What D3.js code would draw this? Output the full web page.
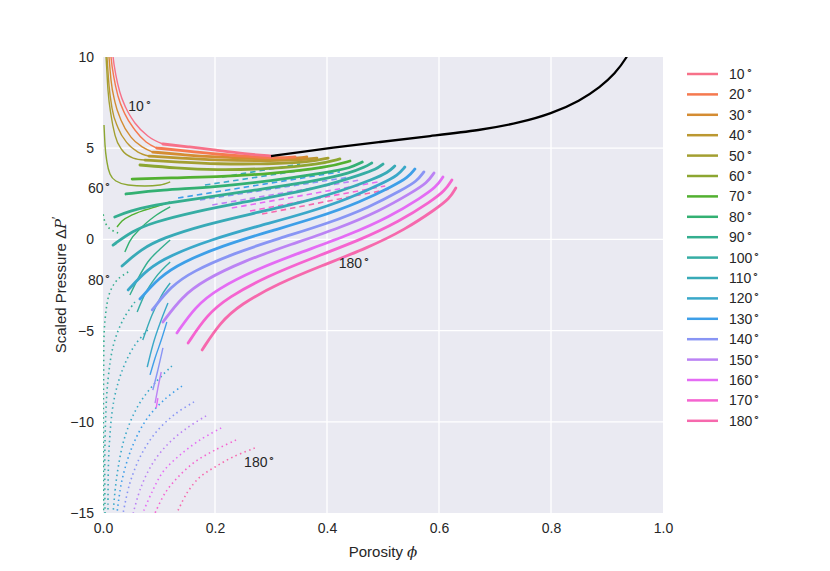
<!DOCTYPE html>
<html>
<head>
<meta charset="utf-8">
<script src="https://cdn.jsdelivr.net/npm/d3@7"></script>
<style>
  body { margin: 0; background: #fff; }
  text { font-family: "Liberation Sans", Arial, sans-serif; fill: #262626; }
</style>
</head>
<body>
<div id="chart"></div>
<script>
// chart size and plot box
const width = 830;
const height = 571;
const margin = { left: 103, right: 167, top: 57, bottom: 58 };

// contact angles (degrees) and their palette colours
const angles = [10, 20, 30, 40, 50, 60, 70, 80, 90, 100, 110, 120, 130, 140, 150, 160, 170, 180];
const angleColors = ["#f77189", "#f5794f", "#d48c32", "#bb9831", "#a39f31", "#8ca631",
                     "#52b031", "#33b072", "#34ae8f", "#36ada4", "#38aab7", "#3aa8c9",
                     "#3e9fe8", "#8995f4", "#bb83f4", "#e46cf4", "#f564d0", "#f669ad"];

const xTicks = [0.0, 0.2, 0.4, 0.6, 0.8, 1.0];
const yTicks = [-15, -10, -5, 0, 5, 10];

// stable branch (thick), [porosity, scaled pressure]
const stableBranch = [
  [[0.107,5.23],[0.155,5.07],[0.200,4.90],[0.254,4.68],[0.302,4.57]],
  [[0.096,5.01],[0.146,4.85],[0.200,4.68],[0.271,4.52],[0.316,4.46],[0.343,4.52]],
  [[0.089,4.79],[0.146,4.63],[0.200,4.52],[0.280,4.41],[0.334,4.41],[0.364,4.52]],
  [[0.082,4.57],[0.138,4.46],[0.200,4.35],[0.280,4.30],[0.352,4.35],[0.382,4.46]],
  [[0.075,4.35],[0.138,4.24],[0.200,4.13],[0.298,4.13],[0.370,4.24],[0.402,4.46]],
  [[0.066,4.08],[0.129,3.91],[0.200,3.80],[0.298,3.86],[0.388,4.13],[0.423,4.41]],
  [[0.052,3.31],[0.120,3.37],[0.200,3.42],[0.298,3.59],[0.405,3.97],[0.441,4.30]],
  [[0.041,2.49],[0.102,2.71],[0.200,2.87],[0.298,3.20],[0.405,3.70],[0.441,3.91],[0.463,4.24]],
  [[0.021,1.23],[0.048,1.56],[0.084,1.83],[0.129,2.05],[0.200,2.38],[0.298,2.82],[0.388,3.26],[0.441,3.64],[0.468,3.97],[0.480,4.19]],
  [[0.018,-0.31],[0.052,0.45],[0.090,0.94],[0.163,1.51],[0.244,2.00],[0.331,2.49],[0.404,3.00],[0.461,3.56],[0.488,3.84],[0.500,4.13]],
  [[0.034,-1.46],[0.068,-0.53],[0.107,0.08],[0.180,0.79],[0.263,1.39],[0.351,2.00],[0.424,2.63],[0.483,3.31],[0.509,3.67],[0.521,4.02]],
  [[0.045,-2.77],[0.079,-1.63],[0.119,-0.89],[0.193,-0.01],[0.277,0.73],[0.366,1.47],[0.440,2.25],[0.500,3.09],[0.527,3.53],[0.539,3.97]],
  [[0.066,-3.27],[0.101,-2.06],[0.140,-1.27],[0.213,-0.35],[0.297,0.44],[0.385,1.22],[0.459,2.04],[0.518,2.93],[0.545,3.40],[0.557,3.86]],
  [[0.088,-3.87],[0.121,-2.58],[0.160,-1.75],[0.233,-0.77],[0.316,0.07],[0.403,0.89],[0.476,1.77],[0.534,2.71],[0.561,3.20],[0.573,3.70]],
  [[0.107,-4.53],[0.141,-3.14],[0.180,-2.24],[0.252,-1.18],[0.335,-0.28],[0.422,0.62],[0.494,1.56],[0.552,2.58],[0.579,3.11],[0.591,3.64]],
  [[0.132,-5.13],[0.165,-3.68],[0.203,-2.74],[0.275,-1.62],[0.355,-0.69],[0.441,0.26],[0.512,1.24],[0.569,2.31],[0.595,2.87],[0.607,3.42]],
  [[0.152,-5.68],[0.185,-4.16],[0.223,-3.18],[0.293,-2.02],[0.373,-1.03],[0.458,-0.05],[0.529,0.98],[0.586,2.09],[0.611,2.68],[0.623,3.26]],
  [[0.177,-6.06],[0.209,-4.56],[0.245,-3.57],[0.313,-2.42],[0.390,-1.45],[0.472,-0.47],[0.540,0.55],[0.594,1.66],[0.619,2.24],[0.630,2.82]]
];

// unstable branch (thin)
const unstableBranch = [
  [[0.016,10.66],[0.018,10.0],[0.023,9.01],[0.030,8.08],[0.041,7.20],[0.057,6.38],[0.080,5.67],[0.107,5.23]],
  [[0.0125,10.66],[0.0143,10.0],[0.0196,8.85],[0.0268,7.86],[0.039,6.88],[0.057,6.00],[0.077,5.34],[0.096,5.01]],
  [[0.0089,10.66],[0.0107,10.0],[0.0143,8.74],[0.0214,7.53],[0.032,6.55],[0.050,5.61],[0.070,5.07],[0.089,4.79]],
  [[0.0054,10.66],[0.0071,10.0],[0.0107,8.46],[0.0161,7.20],[0.027,6.11],[0.043,5.29],[0.0625,4.79],[0.082,4.57]],
  [[0.0036,10.66],[0.0054,10.0],[0.0089,8.19],[0.0143,6.82],[0.0214,5.72],[0.034,4.90],[0.054,4.46],[0.075,4.35]],
  [[0.0018,6.27],[0.0036,5.18],[0.0071,4.24],[0.0125,3.59],[0.0232,3.20],[0.045,2.98],[0.075,2.93],[0.102,2.98],[0.120,3.15]],
  [[0.025,0.68],[0.034,1.01],[0.052,1.34],[0.075,1.61],[0.098,1.83],[0.120,2.05]],
  [[0.039,-0.69],[0.048,-0.09],[0.066,0.57],[0.093,1.28],[0.120,1.78]],
  [[0.048,-3.05],[0.063,-2.12],[0.080,-1.24],[0.102,-0.53],[0.120,-0.03]],
  [[0.061,-3.98],[0.075,-2.99],[0.093,-2.12],[0.120,-1.24]],
  [[0.071,-5.52],[0.0875,-4.14],[0.105,-3.05],[0.120,-2.39]],
  [[0.079,-7.00],[0.089,-5.79],[0.104,-4.42],[0.116,-3.49]],
  [[0.084,-7.43],[0.093,-6.50],[0.104,-5.52],[0.114,-4.53]],
  [[0.089,-8.26],[0.098,-7.16],[0.107,-5.95]],
  [[0.093,-8.97],[0.098,-8.15],[0.104,-7.27]],
  [[0.095,-9.24],[0.098,-8.70]],
  null,
  null
];

// dashed branch
const dashedBranch = [
  null, null, null, null, null, null, null, null, null, null,
  [[0.2125,3.42],[0.352,4.13]],
  [[0.182,2.98],[0.405,4.02]],
  [[0.134,2.27],[0.423,3.70]],
  [[0.173,2.16],[0.441,3.42]],
  [[0.195,1.89],[0.459,3.26]],
  [[0.230,1.72],[0.491,3.15]],
  [[0.2625,1.56],[0.504,2.93]],
  [[0.284,1.39],[0.5125,2.76]]
];

// dotted branch
const dottedBranch = [
  null, null, null, null, null, null, null,
  [[0.027,0.35],[0.0125,0.57],[0.0036,0.95],[0.0,1.45]],
  [[0.045,-1.79],[0.027,-2.17],[0.0125,-2.88],[0.0036,-4.42],[0.001,-7.71],[0.001,-15]],
  [[0.057,-3.43],[0.0375,-4.31],[0.0196,-5.68],[0.0089,-7.71],[0.0036,-11.0],[0.0036,-15]],
  [[0.080,-4.97],[0.057,-5.79],[0.036,-7.05],[0.0196,-8.80],[0.0107,-11.55],[0.0089,-15]],
  [[0.123,-6.94],[0.093,-7.87],[0.0625,-9.13],[0.039,-10.83],[0.025,-12.92],[0.018,-15]],
  [[0.141,-8.04],[0.109,-8.80],[0.077,-9.90],[0.052,-11.38],[0.034,-13.19],[0.025,-15]],
  [[0.1625,-8.91],[0.129,-9.57],[0.095,-10.56],[0.068,-11.82],[0.048,-13.36],[0.036,-15]],
  [[0.184,-9.68],[0.150,-10.34],[0.116,-11.22],[0.089,-12.26],[0.068,-13.57],[0.054,-15]],
  [[0.211,-10.34],[0.173,-11.0],[0.1375,-11.82],[0.107,-12.75],[0.0875,-13.85],[0.071,-15]],
  [[0.2375,-11.0],[0.200,-11.55],[0.164,-12.20],[0.134,-13.03],[0.111,-13.90],[0.093,-15]],
  [[0.271,-11.44],[0.232,-11.93],[0.200,-12.48],[0.173,-13.03],[0.150,-13.90],[0.132,-15]]
];

// black limit curve
const limitCurve = [[0.300,4.57],[0.352,4.79],[0.405,5.01],[0.495,5.34],[0.584,5.67],[0.673,5.98],
                    [0.745,6.40],[0.800,6.88],[0.852,7.60],[0.888,8.36],[0.914,9.07],[0.936,10.0],[0.945,10.6]];

// in-plot labels
const annotations = [
  { text: "10", phi: 0.045, p: 7.04 },
  { text: "60", phi: -0.027, p: 2.54 },
  { text: "80", phi: -0.027, p: -2.5 },
  { text: "180", phi: 0.421, p: -1.57 },
  { text: "180", phi: 0.252, p: -12.47 }
];

const svg = d3.select("#chart")
  .append("svg")
  .attr("width", width)
  .attr("height", height);

const x = d3.scaleLinear().domain([0, 1]).range([margin.left, width - margin.right]);
const y = d3.scaleLinear().domain([-15, 10]).range([height - margin.bottom, margin.top]);

// background + grid
svg.append("rect")
  .attr("x", x(0)).attr("y", y(10))
  .attr("width", x(1) - x(0)).attr("height", y(-15) - y(10))
  .attr("fill", "#eaeaf2");

svg.append("g")
  .selectAll("line")
  .data(xTicks.slice(1, -1))
  .enter().append("line")
  .attr("x1", d => x(d)).attr("x2", d => x(d))
  .attr("y1", y(10)).attr("y2", y(-15))
  .attr("stroke", "#fff").attr("stroke-width", 1.3);

svg.append("g")
  .selectAll("line")
  .data(yTicks.slice(1, -1))
  .enter().append("line")
  .attr("x1", x(0)).attr("x2", x(1))
  .attr("y1", d => y(d)).attr("y2", d => y(d))
  .attr("stroke", "#fff").attr("stroke-width", 1.3);

svg.append("clipPath").attr("id", "plotclip")
  .append("rect")
  .attr("x", x(0)).attr("y", y(10))
  .attr("width", x(1) - x(0)).attr("height", y(-15) - y(10));

// b-spline for the thick branches, monotone / catmull-rom for the others
const basisLine = d3.line()
  .x(d => x(d[0]))
  .y(d => y(d[1]))
  .curve(d3.curveBasis);

const smoothLine = d3.line()
  .x(d => x(d[0]))
  .y(d => y(d[1]))
  .curve(d3.curveMonotoneX);

const looseLine = d3.line()
  .x(d => x(d[0]))
  .y(d => y(d[1]))
  .curve(d3.curveCatmullRom.alpha(0.5));

const curves = svg.append("g").attr("clip-path", "url(#plotclip)");

// dotted, dashed, thin, thick for every angle
dottedBranch.forEach((pts, i) => {
  if (!pts) return;
  curves.append("path").attr("d", looseLine(pts))
    .attr("fill", "none").attr("stroke", angleColors[i])
    .attr("stroke-width", 1.6).attr("stroke-dasharray", "1.5,3.3");
});

dashedBranch.forEach((pts, i) => {
  if (!pts) return;
  curves.append("path").attr("d", smoothLine(pts))
    .attr("fill", "none").attr("stroke", angleColors[i])
    .attr("stroke-width", 1.6).attr("stroke-dasharray", "5.5,4");
});

unstableBranch.forEach((pts, i) => {
  if (!pts) return;
  curves.append("path").attr("d", smoothLine(pts))
    .attr("fill", "none").attr("stroke", angleColors[i])
    .attr("stroke-width", 1.4);
});

for (let i = stableBranch.length - 1; i >= 0; i--) {
  curves.append("path").attr("d", basisLine(stableBranch[i]))
    .attr("fill", "none").attr("stroke", angleColors[i])
    .attr("stroke-width", 2.8).attr("stroke-linecap", "round");
}

curves.append("path").attr("d", basisLine(limitCurve))
  .attr("fill", "none").attr("stroke", "#000").attr("stroke-width", 2.3);

// axes
const xAxis = svg.append("g")
  .attr("transform", `translate(0,${y(-15)})`)
  .call(d3.axisBottom(x).tickValues(xTicks).tickSize(0).tickPadding(10).tickFormat(d3.format(".1f")));
xAxis.select(".domain").remove();
xAxis.selectAll("text").attr("font-size", "14px").attr("font-family", "Liberation Sans, Arial, sans-serif").attr("fill", "#262626");

const yAxis = svg.append("g")
  .attr("transform", `translate(${x(0)},0)`)
  .call(d3.axisLeft(y).tickValues(yTicks).tickSize(0).tickPadding(9));
yAxis.select(".domain").remove();
yAxis.selectAll("text").attr("font-size", "14px").attr("font-family", "Liberation Sans, Arial, sans-serif").attr("fill", "#262626");

// axis titles
const xt = svg.append("text")
  .attr("x", (x(0) + x(1)) / 2).attr("y", 557)
  .attr("text-anchor", "middle").attr("font-size", "15px");
xt.append("tspan").text("Porosity ");
xt.append("tspan").attr("font-style", "italic").attr("font-family", "DejaVu Serif, serif").text("\u03d5");

const yt = svg.append("text")
  .attr("transform", `translate(66,${(y(10) + y(-15)) / 2}) rotate(-90)`)
  .attr("text-anchor", "middle").attr("font-size", "15px");
yt.append("tspan").text("Scaled Pressure ");
yt.append("tspan").text("\u0394");
yt.append("tspan").attr("font-style", "italic").attr("font-family", "DejaVu Serif, serif").text("P");
yt.append("tspan").attr("font-size", "12px").attr("dy", -5).text("\u2032");

// in-plot angle labels
annotations.forEach(a => {
  const t = svg.append("text")
    .attr("x", x(a.phi)).attr("y", y(a.p))
    .attr("font-size", "14px");
  t.append("tspan").text(a.text);
  t.append("tspan").attr("font-size", "11px").attr("dy", -5).attr("dx", 1).text("\u2218");
});

// legend
const legend = svg.append("g");
angles.forEach((a, i) => {
  const ly = 74 + i * 20.4;
  legend.append("line")
    .attr("x1", 687).attr("x2", 718).attr("y1", ly).attr("y2", ly)
    .attr("stroke", angleColors[i]).attr("stroke-width", 2.5);
  const t = legend.append("text")
    .attr("x", 729).attr("y", ly + 5)
    .attr("font-size", "14px");
  t.append("tspan").text(a);
  t.append("tspan").attr("font-size", "11px").attr("dy", -5).attr("dx", 1).text("\u2218");
});
</script>
</body>
</html>
